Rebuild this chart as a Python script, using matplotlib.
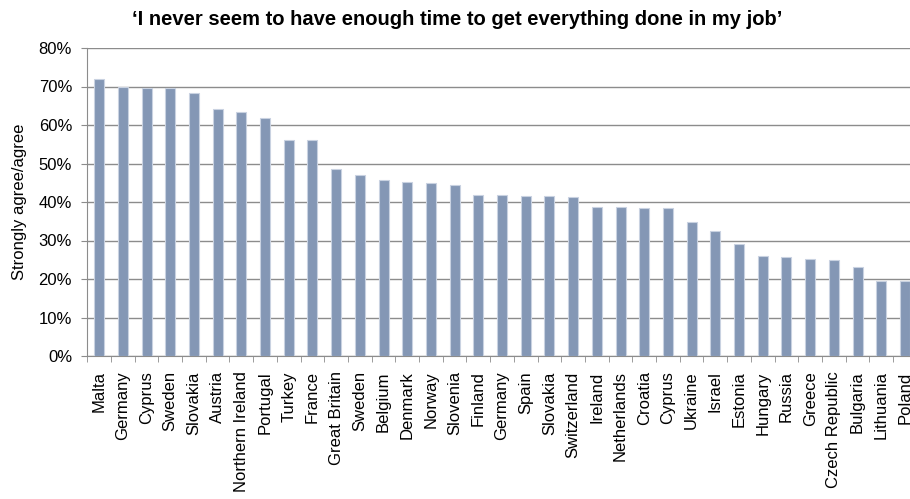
import numpy as np
import matplotlib.pyplot as plt
from matplotlib.ticker import PercentFormatter

plt.rcParams['font.family'] = ['Liberation Sans', 'DejaVu Sans']

countries = ['Malta', 'Germany', 'Cyprus', 'Sweden', 'Slovakia', 'Austria',
             'Northern Ireland', 'Portugal', 'Turkey', 'France', 'Great Britain',
             'Sweden', 'Belgium', 'Denmark', 'Norway', 'Slovenia', 'Finland',
             'Germany', 'Spain', 'Slovakia', 'Switzerland', 'Ireland',
             'Netherlands', 'Croatia', 'Cyprus', 'Ukraine', 'Israel', 'Estonia',
             'Hungary', 'Russia', 'Greece', 'Czech Republic', 'Bulgaria',
             'Lithuania', 'Poland']
agree = [71.9, 70.0, 69.7, 69.7, 68.3, 64.2, 63.4, 61.7, 56.0, 56.0, 48.6,
         46.9, 45.7, 45.2, 44.9, 44.3, 41.8, 41.7, 41.5, 41.5, 41.2, 38.6,
         38.6, 38.4, 38.4, 34.9, 32.4, 29.2, 26.1, 25.6, 25.2, 24.9, 23.0,
         19.5, 19.5]

fig = plt.figure(figsize=(9.1, 4.99), dpi=100)
# axes run slightly past the right edge, as in the original (Poland is clipped)
ax = fig.add_axes([87.3 / 910, 1 - 356 / 499, 829.5 / 910, 308 / 499])

x = np.arange(len(countries))
ax.bar(x, agree, width=0.42, color='#8497b5', edgecolor='#c9d2e1', linewidth=0.8, zorder=3)

ax.set_xlim(-0.5, len(countries) - 0.5)
ax.set_ylim(0, 80)
ax.set_yticks(np.arange(0, 81, 10))
ax.yaxis.set_major_formatter(PercentFormatter(decimals=0))
ax.grid(axis='y', color='#8c8c8c', linewidth=1, zorder=0)

ax.set_xticks(x)
ax.set_xticklabels(countries, rotation=90, fontsize=12)
ax.set_xticks(np.arange(-0.5, len(countries)), minor=True)
ax.tick_params(axis='x', which='major', length=0, pad=11)
ax.tick_params(axis='x', which='minor', length=4, color='#8c8c8c')
ax.tick_params(axis='y', length=4, color='#8c8c8c', labelsize=12, pad=7)

for s in ['top', 'right']:
    ax.spines[s].set_visible(False)
for s in ['left', 'bottom']:
    ax.spines[s].set_color('#8c8c8c')

ax.set_ylabel('Strongly agree/agree', fontsize=12, labelpad=8)
fig.text(0.502, 0.961, '\u2018I never seem to have enough time to get everything done in my job\u2019',
         ha='center', va='center', fontsize=14.5, fontweight='bold')

fig.savefig('out.png', dpi=100)
